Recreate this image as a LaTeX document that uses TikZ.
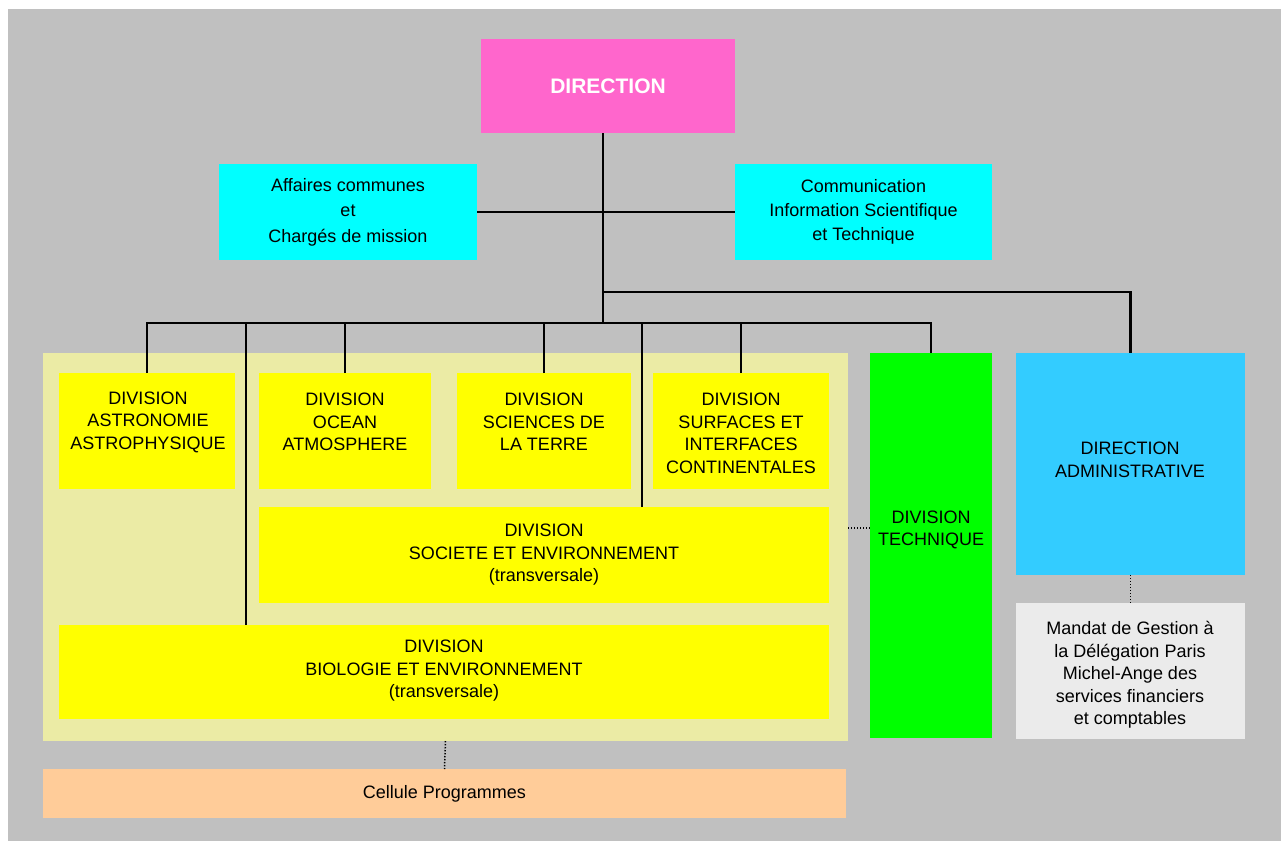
\documentclass[tikz,border=0pt]{standalone}
\usepackage{fontspec}
\setmainfont{Liberation Sans}
\definecolor{bggray}{HTML}{C0C0C0}
\definecolor{dirpink}{HTML}{FF66CC}
\definecolor{cyanbox}{HTML}{00FFFF}
\definecolor{panelkhaki}{HTML}{EBEBA5}
\definecolor{divyellow}{HTML}{FFFF00}
\definecolor{techgreen}{HTML}{00FF00}
\definecolor{adminblue}{HTML}{33CCFF}
\definecolor{mandatgray}{HTML}{EBEBEB}
\definecolor{cellpeach}{HTML}{FFCC99}
\begin{document}
\begin{tikzpicture}[x=1pt,y=-1pt,
  box/.style={draw=none, inner sep=0pt, outer sep=0pt, anchor=north west},
  txt/.style={align=center, font=\fontsize{18}{22.5}\selectfont, inner sep=0pt},
  link/.style={line width=2.8pt, black},
  dots/.style={line width=1.5pt, black, dash pattern=on 1.4pt off 1.6pt}]

\useasboundingbox (0,0) rectangle (1281,841);
\fill[bggray] (8,9) rectangle (1281,841);

% top level
\node[box, fill=dirpink, minimum width=254pt, minimum height=94pt,
      font=\fontsize{21}{25}\selectfont\bfseries, text=white] (dir) at (481,39) {DIRECTION};
\node[box, fill=cyanbox, minimum width=258pt, minimum height=96pt,
      align=center, font=\fontsize{18}{25.5}\selectfont] (aff) at (219,164)
      {Affaires communes\\et\\Chargés de mission};
\node[box, fill=cyanbox, minimum width=257pt, minimum height=96pt,
      align=center, font=\fontsize{18}{24}\selectfont] (com) at (735,164)
      {Communication\\Information Scientifique\\et Technique};

% scientific divisions panel
\node[box, fill=panelkhaki, minimum width=805pt, minimum height=388pt] (panel) at (43,353) {};
\node[box, fill=divyellow, minimum width=176pt, minimum height=116pt] (astro) at (59,373) {};
\node[box, fill=divyellow, minimum width=172pt, minimum height=116pt] (ocean) at (259,373) {};
\node[box, fill=divyellow, minimum width=174pt, minimum height=116pt] (terre) at (457,373) {};
\node[box, fill=divyellow, minimum width=176pt, minimum height=116pt] (surf) at (653,373) {};
\node[box, fill=divyellow, minimum width=570pt, minimum height=96pt] (soc) at (259,507) {};
\node[box, fill=divyellow, minimum width=770pt, minimum height=94pt] (bio) at (59,625) {};

\node[txt] (astro-t) at (148,422) {DIVISION\\ASTRONOMIE\\ASTROPHYSIQUE};
\node[txt] (ocean-t) at (345,422) {DIVISION\\OCEAN\\ATMOSPHERE};
\node[txt] (terre-t) at (544,422) {DIVISION\\SCIENCES DE\\LA TERRE};
\node[txt] (surf-t) at (741,433.5) {DIVISION\\SURFACES ET\\INTERFACES\\CONTINENTALES};
\node[txt] (soc-t) at (544,555) {DIVISION\\SOCIETE ET ENVIRONNEMENT\\(transversale)};
\node[txt] (bio-t) at (444,671) {DIVISION\\BIOLOGIE ET ENVIRONNEMENT\\(transversale)};

% right-hand column
\node[box, fill=techgreen, minimum width=122pt, minimum height=385pt] (tech) at (870,353) {};
\node[txt] (tech-t) at (931,530) {DIVISION\\TECHNIQUE};
\node[box, fill=adminblue, minimum width=229pt, minimum height=222pt] (admin) at (1016,353) {};
\node[txt] (admin-t) at (1130,460) {DIRECTION\\ADMINISTRATIVE};
\node[box, fill=mandatgray, minimum width=229pt, minimum height=136pt] (mandat) at (1016,603) {};
\node[txt] (mandat-t) at (1130,675) {Mandat de Gestion à\\la Délégation Paris\\Michel-Ange des\\services financiers\\et comptables};

\node[box, fill=cellpeach, minimum width=803pt, minimum height=49pt,
      font=\fontsize{18}{22.5}\selectfont] (cell) at (43,769) {Cellule Programmes};

% connectors
\coordinate (bus) at (603,323);
\coordinate (adminBus) at (603,292);
\coordinate (bioIn) at (246,625);
\coordinate (socIn) at (642,507);
\coordinate (techLvl) at (0,528);

\draw[link] (dir.south -| bus) -- (bus);
\draw[link] (aff.east) -- (com.west);
\draw[link] (adminBus) -| (admin.north);
\draw[link] (astro.north) |- (bus);
\draw[link] (tech.north) |- (bus);
\draw[link] (bioIn) -- (bioIn |- bus);
\draw[link] (ocean.north) -- (ocean.north |- bus);
\draw[link] (terre.north) -- (terre.north |- bus);
\draw[link] (socIn) -- (socIn |- bus);
\draw[link] (surf.north) -- (surf.north |- bus);

\draw[dots] (panel.south) -- (cell.north);
\draw[dots] (panel.east |- techLvl) -- (tech.west |- techLvl);
\draw[dots] (admin.south) -- (mandat.north);
\end{tikzpicture}
\end{document}
